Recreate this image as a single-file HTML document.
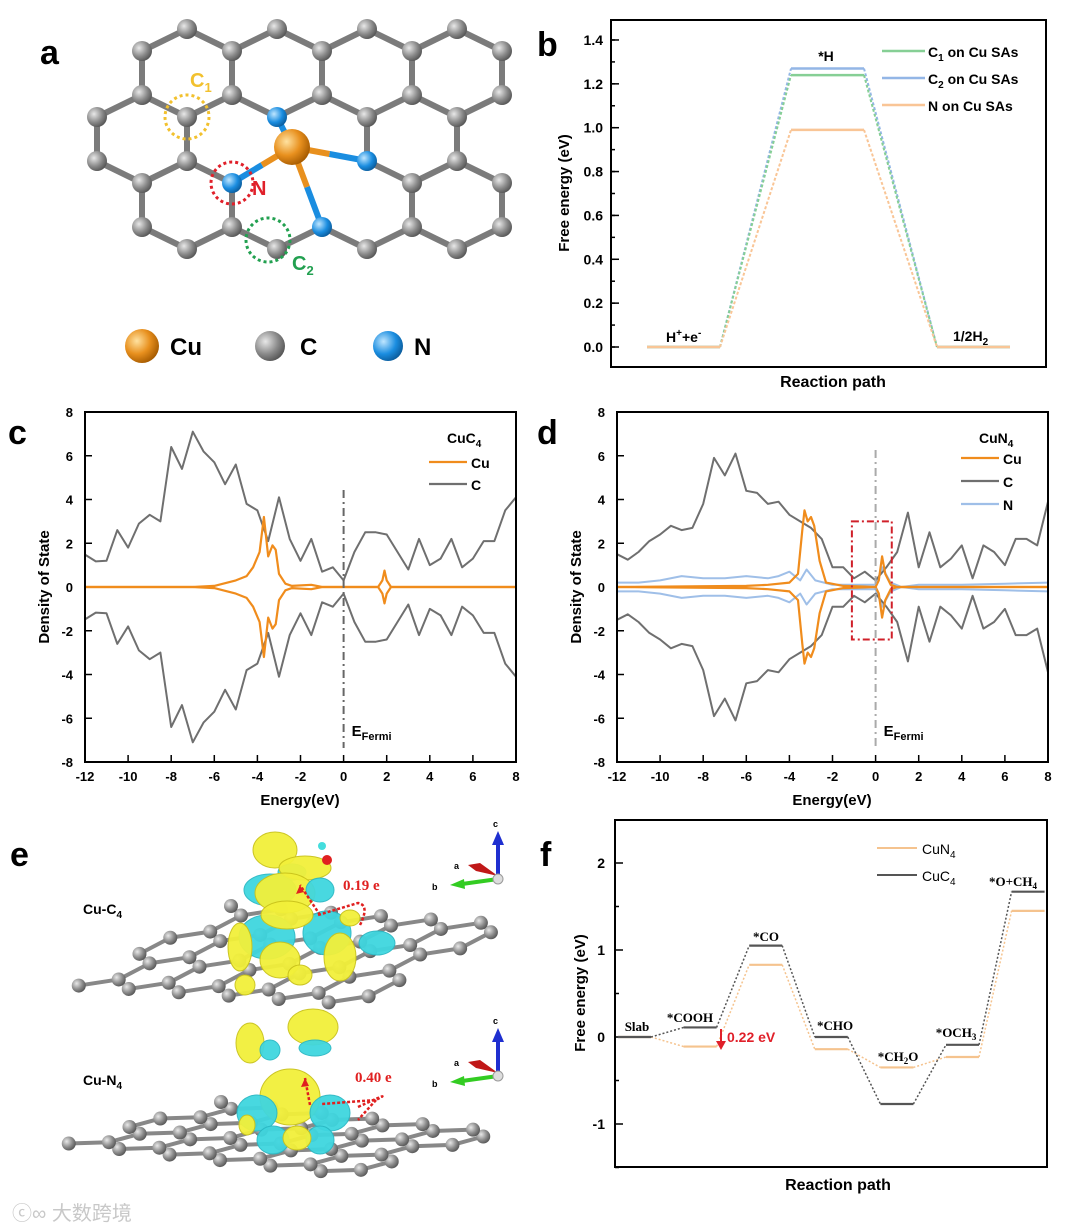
<!DOCTYPE html>
<html><head><meta charset="utf-8"><style>
html,body{margin:0;padding:0;background:#fff;}
svg{display:block;font-family:"Liberation Sans",Arial,sans-serif;}
.b{font-weight:bold;}
</style></head><body>
<svg id="fig" width="1080" height="1230" viewBox="0 0 1080 1230" xmlns="http://www.w3.org/2000/svg">
<defs>
<radialGradient id="gC" cx="35%" cy="35%" r="70%"><stop offset="0" stop-color="#e8e8e8"/><stop offset="0.6" stop-color="#8a8a8a"/><stop offset="1" stop-color="#555"/></radialGradient>
<radialGradient id="gN" cx="35%" cy="35%" r="70%"><stop offset="0" stop-color="#bfe6ff"/><stop offset="0.6" stop-color="#1a8de0"/><stop offset="1" stop-color="#0b5c9c"/></radialGradient>
<radialGradient id="gCu" cx="35%" cy="35%" r="70%"><stop offset="0" stop-color="#ffe2a0"/><stop offset="0.55" stop-color="#e8901e"/><stop offset="1" stop-color="#a55a00"/></radialGradient>
</defs>
<g id="panelA"></g>
<g id="panelB"></g>
<g id="panelC"></g>
<g id="panelD"></g>
<g id="panelE"></g>
<g id="panelF"></g>
<text x="40" y="64" font-size="34" class="b">a</text>
<text x="537" y="56" font-size="34" class="b">b</text>
<text x="8" y="444" font-size="34" class="b">c</text>
<text x="537" y="444" font-size="34" class="b">d</text>
<text x="10" y="866" font-size="34" class="b">e</text>
<text x="540" y="866" font-size="34" class="b">f</text>
<text x="12" y="1220" font-size="20" fill="#c8c8c8" font-family="'Liberation Sans','Noto Sans CJK SC',sans-serif">ⓒ∞ 大数跨境</text>
</svg>
<script>
const NS="http://www.w3.org/2000/svg";
function mk(p,tag,at,txt){const e=document.createElementNS(NS,tag);for(const k in at)e.setAttribute(k,at[k]);if(txt!==undefined)e.textContent=txt;p.appendChild(e);return e;}

// ---------- Panel b data ----------
const bSteps=["H+ +e-","*H","1/2H2"];
const bC1=[0,1.24,0];
const bC2=[0,1.27,0];
const bN=[0,0.99,0];
const bTicks=[0.0,0.2,0.4,0.6,0.8,1.0,1.2,1.4];

// ---------- Panel c data ----------
const dosE=[-12,-11.5,-11,-10.5,-10,-9.5,-9,-8.5,-8,-7.5,-7,-6.5,-6,-5.5,-5,-4.5,-4,-3.5,-3,-2.5,-2,-1.5,-1,-0.5,0,0.5,1,1.5,2,2.5,3,3.5,4,4.5,5,5.5,6,6.5,7,7.5,8];
const cC=[1.48,1.17,1.2,2.6,1.8,2.9,3.3,3.0,6.4,5.4,7.1,6.2,5.7,4.7,5.6,3.8,3.5,2.1,4.1,2.2,1.2,2.2,0.7,0.9,0.3,1.6,2.5,2.5,2.4,1.6,0.8,2.2,1.0,1.3,2.2,0.9,1.3,2.1,2.1,3.5,4.1];
const cCuE=[-12,-7,-6,-5,-4.5,-4.2,-3.9,-3.7,-3.5,-3.3,-3.15,-3,-2.7,-2.4,-1.5,-1,1.6,1.8,1.9,2.0,2.2,8];
const cCuV=[0,0,0.05,0.3,0.5,0.9,1.6,3.2,1.4,1.9,1.7,0.6,0.15,0.05,0.1,0,0,0.3,0.75,0.3,0,0];
const dosYT=[-8,-6,-4,-2,0,2,4,6,8];
const dosXT=[-12,-10,-8,-6,-4,-2,0,2,4,6,8];

// ---------- Panel d data ----------
const dC=[1.5,1.25,1.6,2.1,2.4,2.8,2.6,2.7,3.8,5.9,5.1,6.1,4.4,4.3,3.8,3.9,3.3,3.0,2.7,2.2,0.9,0.9,0.4,0.7,0.3,0.9,1.6,3.4,0.9,2.5,0.9,1.3,1.9,0.4,1.9,1.6,1.0,2.2,2.2,1.9,3.9];
const dCuE=[-12,-6,-5,-4,-3.6,-3.4,-3.3,-3.15,-3.0,-2.85,-2.6,-2.3,-1.5,0,0.15,0.3,0.45,0.7,1,8];
const dCuV=[0,0.05,0.1,0.2,0.6,2.6,3.5,3.0,3.2,2.8,1.2,0.2,0.05,0,0.3,1.4,0.6,0.1,0,0];
const dNE=[-12,-11,-10,-9,-8,-7,-6,-5,-4.5,-4,-3.5,-3.2,-2.8,-2,-1,0,0.3,0.7,1.2,2,4,6,8];
const dNV=[0.2,0.2,0.3,0.5,0.4,0.4,0.5,0.4,0.5,0.7,0.3,0.8,0.3,0.1,0.1,0.1,0.9,0.2,0,0.1,0.1,0.15,0.2];

// ---------- Panel f data ----------
const fSteps=["Slab","*COOH","*CO","*CHO","*CH2O","*OCH3","*O+CH4"];
const fCuC4=[0,0.11,1.05,0.0,-0.77,-0.09,1.67];
const fCuN4=[0,-0.11,0.83,-0.14,-0.35,-0.23,1.45];
const fTicks=[-1,0,1,2];

// ===== Panel A =====
(function(){
const g=document.getElementById('panelA');
const bondG=mk(g,'g',{});
const atomG=mk(g,'g',{});
const A=[],B=[];
for(let j=-1;j<=3;j++)for(let i=-2;i<=6;i++){
 const ax=142+90*i+45*j, ay=95+66*j; A.push([ax,ay]); B.push([ax+45,ay+22]);}
const removed=[[277,161],[322,183],[97,29]];
const isRem=p=>removed.some(r=>Math.abs(r[0]-p[0])<2&&Math.abs(r[1]-p[1])<2);
const inside=p=>p[0]>72&&p[0]<515&&p[1]>25&&p[1]<300&&!isRem(p);
const key=p=>p[0]+','+p[1];
const nodeMap=new Map();
A.concat(B).filter(inside).forEach(p=>nodeMap.set(key(p),p));
let edges=[];
B.forEach(b=>{ if(!nodeMap.has(key(b)))return;
 [[b[0]-45,b[1]-22],[b[0]+45,b[1]-22],[b[0],b[1]+44]].forEach(a=>{ if(nodeMap.has(key(a))) edges.push([b,a]);});});
for(let it=0;it<4;it++){const deg=new Map();edges.forEach(e=>{deg.set(key(e[0]),(deg.get(key(e[0]))||0)+1);deg.set(key(e[1]),(deg.get(key(e[1]))||0)+1);});
 for(const k of [...nodeMap.keys()]) if((deg.get(k)||0)<2 && !['277,117','367,161','232,183','322,227'].includes(k)) nodeMap.delete(k);
 edges=edges.filter(e=>nodeMap.has(key(e[0]))&&nodeMap.has(key(e[1])));}
edges.forEach(e=>mk(bondG,'line',{x1:e[0][0],y1:e[0][1],x2:e[1][0],y2:e[1][1],stroke:'#7b7b7b','stroke-width':6}));
const Ns=[[277,117],[367,161],[232,183],[322,227]];
const Cu=[292,147];
Ns.forEach(n=>{mk(bondG,'line',{x1:Cu[0],y1:Cu[1],x2:(Cu[0]+n[0])/2,y2:(Cu[1]+n[1])/2,stroke:'#e8901e','stroke-width':6});
 mk(bondG,'line',{x1:(Cu[0]+n[0])/2,y1:(Cu[1]+n[1])/2,x2:n[0],y2:n[1],stroke:'#1a8de0','stroke-width':6});});
nodeMap.forEach(p=>{ if(Ns.some(n=>n[0]==p[0]&&n[1]==p[1]))return;
 const c=mk(atomG,'circle',{cx:p[0],cy:p[1],r:10,fill:'url(#gC)'});
 });
Ns.forEach(n=>{const c=mk(atomG,'circle',{cx:n[0],cy:n[1],r:10,fill:'url(#gN)'});});
const cu=mk(atomG,'circle',{cx:Cu[0],cy:Cu[1],r:18,fill:'url(#gCu)'});
mk(g,'circle',{cx:187,cy:117,r:22,fill:'none',stroke:'#f2c12e','stroke-width':3,'stroke-dasharray':'3 3'});
mk(g,'circle',{cx:232,cy:183,r:21,fill:'none',stroke:'#e0202a','stroke-width':3,'stroke-dasharray':'3 3'});
mk(g,'circle',{cx:268,cy:240,r:22,fill:'none',stroke:'#22a050','stroke-width':3,'stroke-dasharray':'3 3'});
const t1=mk(g,'text',{x:190,y:87,'font-size':20,fill:'#f2c12e','font-weight':'bold'},'C');mk(t1,'tspan',{'font-size':13,dy:5},'1');
mk(g,'text',{x:252,y:195,'font-size':20,fill:'#e0202a','font-weight':'bold'},'N');
const t2=mk(g,'text',{x:292,y:270,'font-size':20,fill:'#22a050','font-weight':'bold'},'C');mk(t2,'tspan',{'font-size':13,dy:5},'2');
mk(g,'circle',{cx:142,cy:346,r:17,fill:'url(#gCu)'});
mk(g,'text',{x:170,y:355,'font-size':24,'font-weight':'bold'},'Cu');
mk(g,'circle',{cx:270,cy:346,r:15,fill:'url(#gC)'});
mk(g,'text',{x:300,y:355,'font-size':24,'font-weight':'bold'},'C');
mk(g,'circle',{cx:388,cy:346,r:15,fill:'url(#gN)'});
mk(g,'text',{x:414,y:355,'font-size':24,'font-weight':'bold'},'N');
})();

function frame(g,x0,y0,x1,y1){const r=mk(g,'rect',{x:x0,y:y0,width:x1-x0,height:y1-y0,fill:'none',stroke:'#000','stroke-width':2});}

// ===== Panel B =====
(function(){
const g=document.getElementById('panelB');
const X0=611,X1=1046,Y0=20,Y1=367;
const y=v=>347-v*219.3;
const stepL=[647,791,937], stepW=73;
const tg=mk(g,'g',{});
for(let v=-0.1;v<=1.51;v+=0.1){const yy=y(v);if(yy<Y0||yy>Y1)continue;mk(tg,'line',{x1:X0,x2:X0+4,y1:yy,y2:yy,stroke:'#000','stroke-width':1.5});}
bTicks.forEach(v=>{mk(tg,'line',{x1:X0,x2:X0+8,y1:y(v),y2:y(v),stroke:'#000','stroke-width':1.5});
 mk(tg,'text',{x:X0-8,y:y(v)+5,'font-size':14,'font-weight':'bold','text-anchor':'end'},v.toFixed(1));});
const series=[[bC2,'#93b6e6','c2'],[bC1,'#86cf95','c1'],[bN,'#f9c596','n']];
series.forEach(([vals,col,nm])=>{const sg=mk(g,'g',{});
 
 vals.forEach((v,i)=>{mk(sg,'line',{x1:stepL[i],x2:stepL[i]+stepW,y1:y(v),y2:y(v),stroke:col,'stroke-width':2.5});
  if(i<vals.length-1)mk(sg,'line',{x1:stepL[i]+stepW,y1:y(v),x2:stepL[i+1],y2:y(vals[i+1]),stroke:col,'stroke-width':2,'stroke-dasharray':'3 2'});});});
frame(g,X0,Y0,X1,Y1);
mk(g,'text',{x:826,y:61,'font-size':14,'font-weight':'bold','text-anchor':'middle'},'*H');
const h=mk(g,'text',{x:666,y:342,'font-size':14,'font-weight':'bold'},'H');mk(h,'tspan',{'font-size':10,dy:-6},'+');mk(h,'tspan',{dy:6},'+e');mk(h,'tspan',{'font-size':10,dy:-6},'-');
const h2=mk(g,'text',{x:953,y:341,'font-size':14,'font-weight':'bold'},'1/2H');mk(h2,'tspan',{'font-size':10,dy:4},'2');
const leg=[['#86cf95','C','1',' on Cu SAs',52],['#93b6e6','C','2',' on Cu SAs',79],['#f9c596','N','',' on Cu SAs',106]];
leg.forEach(l=>{const lg=mk(g,'g',{});
 mk(lg,'line',{x1:882,x2:925,y1:l[4]-1,y2:l[4]-1,stroke:l[0],'stroke-width':2.5});
 const t=mk(lg,'text',{x:928,y:l[4]+5,'font-size':14,'font-weight':'bold'},l[1]);
 if(l[2]){mk(t,'tspan',{'font-size':10,dy:4},l[2]);mk(t,'tspan',{dy:-4},l[3]);}else mk(t,'tspan',{},l[3]);});
mk(g,'text',{x:833,y:387,'font-size':16,'font-weight':'bold','text-anchor':'middle'},'Reaction path');
mk(g,'text',{x:0,y:0,'font-size':15,'font-weight':'bold','text-anchor':'middle',transform:'translate(569,193) rotate(-90)'},'Free energy (eV)');
})();

// ===== DOS panels =====
function dos(gid,X0,title,sub,Cvals,CuE,CuV,NE,NV,box){
const g=document.getElementById(gid);
const Y0=412,Y1=762,X1=X0+431;
const x=e=>X0+(e+12)*(431/20), y=v=>587-v*(350/16);
const tg=mk(g,'g',{});
dosYT.forEach(v=>{mk(tg,'line',{x1:X0,x2:X0+7,y1:y(v),y2:y(v),stroke:'#000','stroke-width':1.5});
 mk(tg,'text',{x:X0-12,y:y(v)+5,'font-size':13,'font-weight':'bold','text-anchor':'end'},v);});
dosXT.forEach(v=>{mk(tg,'line',{x1:x(v),x2:x(v),y1:Y1,y2:Y1-7,stroke:'#000','stroke-width':1.5});
 mk(tg,'text',{x:x(v),y:Y1+19,'font-size':13,'font-weight':'bold','text-anchor':'middle'},v);});
function curve(E,V,col,name,w){[1,-1].forEach(s=>{const p=mk(g,'polyline',{points:E.map((e,i)=>x(e).toFixed(1)+','+y(s*V[i]).toFixed(1)).join(' '),fill:'none',stroke:col,'stroke-width':w,'stroke-linejoin':'round'});
 });}
if(NE)curve(NE,NV,'#9fbfe8','n-dos',2);
curve(dosE,Cvals,'#6f6f6f','c-dos',2);
curve(CuE,CuV,'#f08c1c','cu-dos',2.2);
const fl=mk(g,'line',{x1:x(0),x2:x(0),y1:box?450:490,y2:748,stroke:box?'#aaa':'#666','stroke-width':2,'stroke-dasharray':'8 4 2 4'});

const ef=mk(g,'text',{x:x(0)+8,y:736,'font-size':15,'font-weight':'bold'},'E');mk(ef,'tspan',{'font-size':11,dy:4},'Fermi');
if(box){const r=mk(g,'rect',{x:x(-1.1),y:y(3),width:x(0.75)-x(-1.1),height:y(-2.4)-y(3),fill:'none',stroke:'#d0202a','stroke-width':2,'stroke-dasharray':'7 3 2 3'});}
frame(g,X0,Y0,X1,Y1);
const lx=X1-87;
const tt=mk(g,'text',{x:lx+18,y:443,'font-size':14,'font-weight':'bold'},title);mk(tt,'tspan',{'font-size':10,dy:4},sub);
const items=[['#f08c1c','Cu'],['#6f6f6f','C']];if(NE)items.push(['#9fbfe8','N']);
items.forEach((it,i)=>{const yy=(NE?458:462)+i*(NE?23:22);const lg=mk(g,'g',{});
 mk(lg,'line',{x1:lx,x2:lx+38,y1:yy,y2:yy,stroke:it[0],'stroke-width':2.2});
 mk(lg,'text',{x:lx+42,y:yy+6,'font-size':14,'font-weight':'bold'},it[1]);});
mk(g,'text',{x:X0+215,y:805,'font-size':15,'font-weight':'bold','text-anchor':'middle'},'Energy(eV)');
mk(g,'text',{x:0,y:0,'font-size':15,'font-weight':'bold','text-anchor':'middle',transform:'translate('+(X0-36)+',587) rotate(-90)'},'Density of State');
}
dos('panelC',85,'CuC','4',cC,cCuE,cCuV,null,null,false);
dos('panelD',617,'CuN','4',dC,dCuE,dCuV,dNE,dNV,true);

// ===== Panel E =====
(function(){
const g=document.getElementById('panelE');
function sheet(ox,oy,ax,ay,bx,by,name){const sg=mk(g,'g',{});
 const T=(p)=>[ox+p[0]*ax+p[1]*bx, oy+p[0]*ay+p[1]*by];
 const A=[],B=[];for(let j=0;j<4;j++)for(let i=-2;i<8;i++){A.push([i*70+j*35,j*52]);B.push([i*70+j*35+35,j*52+17]);}
 const ins=p=>p[0]>=-20&&p[0]<=400;
 const pts=[];
 B.forEach(b=>{if(!ins(b))return;pts.push(b);[[b[0]-35,b[1]-17],[b[0]+35,b[1]-17],[b[0],b[1]+35]].forEach(a=>{if(ins(a)&&a[1]<=156){const P=T(b),Q=T(a);mk(sg,'line',{x1:P[0],y1:P[1],x2:Q[0],y2:Q[1],stroke:'#888','stroke-width':4});}});});
 A.filter(ins).forEach(a=>pts.push(a));
 pts.forEach(p=>{const P=T(p);mk(sg,'circle',{cx:P[0],cy:P[1],r:7,fill:'url(#gC)'});});}
sheet(231,906,0.714,0.048,-0.88,0.46,'cu-c4-sheet');
sheet(221,1102,0.72,0.079,-0.88,0.24,'cu-n4-sheet');
function blobs(list,name){const bg=mk(g,'g',{});
 list.forEach(b=>mk(bg,'ellipse',{cx:b[0],cy:b[1],rx:b[2],ry:b[3],fill:b[4],stroke:b[4]=='#f2f03a'?'#c9c21a':'#2ab8c4','stroke-width':1,opacity:0.95}));}
blobs([[275,850,22,18,'#f2f03a'],[292,872,14,8,'#3fd6df'],[305,868,26,12,'#f2f03a'],[270,890,26,16,'#3fd6df'],[285,893,30,20,'#f2f03a'],[320,890,14,12,'#3fd6df'],[267,937,28,22,'#3fd6df'],[327,933,24,22,'#3fd6df'],[287,915,26,14,'#f2f03a'],[240,947,12,24,'#f2f03a'],[280,960,20,18,'#f2f03a'],[340,957,16,24,'#f2f03a'],[377,943,18,12,'#3fd6df'],[245,985,10,10,'#f2f03a'],[300,975,12,10,'#f2f03a'],[350,918,10,8,'#f2f03a']],'cu-c4-density');
blobs([[313,1027,25,18,'#f2f03a'],[250,1043,14,20,'#f2f03a'],[270,1050,10,10,'#3fd6df'],[315,1048,16,8,'#3fd6df'],[290,1097,30,28,'#f2f03a'],[257,1113,20,18,'#3fd6df'],[330,1113,20,18,'#3fd6df'],[273,1140,16,14,'#3fd6df'],[320,1140,14,14,'#3fd6df'],[297,1138,14,12,'#f2f03a'],[247,1125,8,10,'#f2f03a']],'cu-n4-density');
mk(g,'circle',{cx:327,cy:860,r:5,fill:'#e02020'});mk(g,'circle',{cx:322,cy:846,r:4,fill:'#4dd'});
mk(g,'path',{d:'M320 915 L300 885 M360 925 Q370 905 358 903 L318 915',stroke:'#e02020','stroke-width':2.5,fill:'none','stroke-dasharray':'3 2'});
mk(g,'path',{d:'M300 885 l-4 9 l8 -2 z',fill:'#e02020'});
mk(g,'path',{d:'M310 1105 L305 1078 M358 1107 Q395 1090 376 1100 L322 1104 M376 1100 L358 1120',stroke:'#e02020','stroke-width':2.5,fill:'none','stroke-dasharray':'3 2'});
mk(g,'path',{d:'M305 1078 l-4 9 l8 -1 z',fill:'#e02020'});
mk(g,'text',{x:343,y:890,'font-size':15,'font-weight':'bold',fill:'#e02020','font-family':'Liberation Serif,serif'},'0.19 e');
mk(g,'text',{x:355,y:1082,'font-size':15,'font-weight':'bold',fill:'#e02020','font-family':'Liberation Serif,serif'},'0.40 e');
const l1=mk(g,'text',{x:83,y:914,'font-size':14,'font-weight':'bold'},'Cu-C');mk(l1,'tspan',{'font-size':10,dy:4},'4');
const l2=mk(g,'text',{x:83,y:1085,'font-size':14,'font-weight':'bold'},'Cu-N');mk(l2,'tspan',{'font-size':10,dy:4},'4');
[[498,879],[498,1076]].forEach(o=>{const ag=mk(g,'g',{});
 mk(ag,'line',{x1:o[0],y1:o[1],x2:o[0],y2:o[1]-36,stroke:'#1f2fd0','stroke-width':4});mk(ag,'path',{d:`M${o[0]-6} ${o[1]-34} L${o[0]} ${o[1]-48} L${o[0]+6} ${o[1]-34}Z`,fill:'#1f2fd0'});
 mk(ag,'line',{x1:o[0],y1:o[1],x2:o[0]-36,y2:o[1]+5,stroke:'#33cc22','stroke-width':4});mk(ag,'path',{d:`M${o[0]-34} ${o[1]} L${o[0]-48} ${o[1]+6} L${o[0]-33} ${o[1]+10}Z`,fill:'#33cc22'});
 mk(ag,'path',{d:`M${o[0]} ${o[1]-3} L${o[0]-22} ${o[1]-8} L${o[0]-30} ${o[1]-14} L${o[0]-18} ${o[1]-16}Z`,fill:'#c01818'});
 mk(ag,'circle',{cx:o[0],cy:o[1],r:5,fill:'#ddd',stroke:'#999'});
 mk(ag,'text',{x:o[0]-5,y:o[1]-52,'font-size':9,'font-weight':'bold'},'c');
 mk(ag,'text',{x:o[0]-44,y:o[1]-10,'font-size':9,'font-weight':'bold'},'a');
 mk(ag,'text',{x:o[0]-66,y:o[1]+11,'font-size':9,'font-weight':'bold'},'b');});
})();

// ===== Panel F =====
(function(){
const g=document.getElementById('panelF');
const X0=615,X1=1047,Y0=820,Y1=1167;
const y=v=>1037-v*87;
const sx=i=>618+65.6*i, sw=33;
const tg=mk(g,'g',{});
[-1.5,-0.5,0.5,1.5].forEach(v=>mk(tg,'line',{x1:X0,x2:X0+4,y1:y(v),y2:y(v),stroke:'#000','stroke-width':1.5}));
fTicks.forEach(v=>{mk(tg,'line',{x1:X0,x2:X0+8,y1:y(v),y2:y(v),stroke:'#000','stroke-width':1.5});
 mk(tg,'text',{x:X0-10,y:y(v)+5,'font-size':14,'font-weight':'bold','text-anchor':'end'},v);});
[[fCuN4,'#f5c38e','cun4'],[fCuC4,'#555','cuc4']].forEach(([vals,col,nm])=>{const sg=mk(g,'g',{});
 
 vals.forEach((v,i)=>{mk(sg,'line',{x1:sx(i),x2:sx(i)+sw,y1:y(v),y2:y(v),stroke:col,'stroke-width':2.2});
  if(i<vals.length-1)mk(sg,'line',{x1:sx(i)+sw,y1:y(v),x2:sx(i+1),y2:y(vals[i+1]),stroke:col,'stroke-width':1.5,'stroke-dasharray':'2 2'});});});
frame(g,X0,Y0,X1,Y1);
const labs=[['Slab',637,1031],['*COOH',690,1022],['*CO',766,941],['*CHO',835,1030],['*CH2O',898,1061],['*OCH3',956,1037],['*O+CH4',1013,886]];
labs.forEach(l=>{const t=mk(g,'text',{x:l[1],y:l[2],'font-size':13,'font-weight':'bold','text-anchor':'middle','font-family':'Liberation Serif,serif'});
 const m=l[0].match(/^(.*?)(\d)(.*)$/);
 if(m){t.textContent=m[1];mk(t,'tspan',{'font-size':9,dy:3},m[2]);if(m[3])mk(t,'tspan',{dy:-3},m[3]);}else t.textContent=l[0];});
mk(g,'line',{x1:721,x2:721,y1:1029,y2:1043,stroke:'#e0202a','stroke-width':2});mk(g,'path',{d:'M716 1041 L721 1050 L726 1041Z',fill:'#e0202a'});
mk(g,'text',{x:727,y:1042,'font-size':14,'font-weight':'bold',fill:'#e0202a'},'0.22 eV');
[['#f5c38e','CuN','4',848],['#555','CuC','4',875]].forEach(l=>{const lg=mk(g,'g',{});
 mk(lg,'line',{x1:877,x2:917,y1:l[3],y2:l[3],stroke:l[0],'stroke-width':2});
 const t=mk(lg,'text',{x:922,y:l[3]+6,'font-size':14},l[1]);mk(t,'tspan',{'font-size':10,dy:4},l[2]);});
mk(g,'text',{x:838,y:1190,'font-size':16,'font-weight':'bold','text-anchor':'middle'},'Reaction path');
mk(g,'text',{x:0,y:0,'font-size':15,'font-weight':'bold','text-anchor':'middle',transform:'translate(585,993) rotate(-90)'},'Free energy (eV)');
})();
</script>
</body></html>
